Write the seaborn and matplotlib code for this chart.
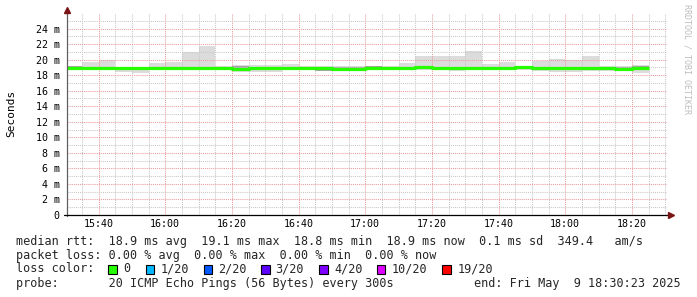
import numpy as np
import pandas as pd
import matplotlib
matplotlib.use("Agg")
import matplotlib.pyplot as plt
import seaborn as sns
from matplotlib.ticker import FixedLocator, FuncFormatter
from matplotlib.patches import Rectangle
from matplotlib.lines import Line2D

# ---------------- data (5-minute bins, labelled by bin end time) ----------------
bin_end = pd.date_range("2025-05-09 15:35", "2025-05-09 18:25", freq="5min")
median_ms = [18.90, 18.90, 18.90, 18.90, 18.90, 18.90, 18.95, 18.90, 18.90, 18.90,
             18.85, 18.90, 18.90, 18.90, 18.95, 18.92, 18.80, 18.80, 18.90, 18.95,
             18.95, 19.05, 18.95, 18.90, 18.90, 18.90, 18.95, 19.00, 18.95, 18.90,
             18.90, 18.90, 18.90, 18.75, 18.95]
smoke_lo = [18.60, 18.60, 18.60, 18.45, 18.30, 18.65, 18.70, 18.60, 18.65, 18.65,
            18.45, 18.45, 18.45, 18.60, 18.65, 18.60, 18.55, 18.55, 18.60, 18.60,
            18.60, 18.65, 18.60, 18.55, 18.60, 18.60, 18.65, 18.70, 18.55, 18.45,
            18.45, 18.55, 18.55, 18.50, 18.30]
smoke_hi = [19.20, 19.75, 19.95, 19.10, 19.10, 19.55, 19.75, 20.95, 21.75, 19.20,
            19.30, 19.30, 19.30, 19.45, 19.15, 19.15, 19.15, 19.15, 19.15, 19.20,
            19.55, 20.45, 20.45, 20.45, 21.10, 19.40, 19.65, 19.20, 19.85, 20.05,
            19.95, 20.45, 19.20, 19.15, 19.30]
core_lo = [18.80, 18.80, 18.80, 18.75, 18.75, 18.80, 18.85, 18.80, 18.80, 18.80,
           18.75, 18.78, 18.78, 18.80, 18.85, 18.55, 18.70, 18.70, 18.80, 18.85,
           18.85, 18.95, 18.85, 18.80, 18.80, 18.80, 18.85, 18.90, 18.85, 18.80,
           18.80, 18.80, 18.80, 18.65, 18.80]
core_hi = [19.20, 19.00, 19.00, 19.00, 19.00, 19.00, 19.05, 19.00, 19.00, 19.00,
           19.12, 19.00, 19.00, 19.00, 19.05, 19.02, 19.05, 19.05, 19.15, 19.05,
           19.05, 19.15, 19.05, 19.00, 19.00, 19.00, 19.05, 19.10, 19.05, 19.00,
           19.00, 19.00, 19.00, 19.10, 19.20]

y_ticks = [0, 2, 4, 6, 8, 10, 12, 14, 16, 18, 20, 24 - 2, 24]
x_tick_labels = ["15:40", "16:00", "16:20", "16:40", "17:00", "17:20", "17:40", "18:00", "18:20"]

loss_labels = ["0", "1/20", "2/20", "3/20", "4/20", "10/20", "19/20"]
loss_colors = ["#26ff00", "#00b8ff", "#0059ff", "#5e00ff", "#7e00ff", "#dd00ff", "#ff0000"]

row1 = "median rtt:  18.9 ms avg  19.1 ms max  18.8 ms min  18.9 ms now  0.1 ms sd  349.4   am/s"
row2 = "packet loss: 0.00 % avg  0.00 % max  0.00 % min  0.00 % now"
row3 = "loss color:"
row4a = "probe:       20 ICMP Echo Pings (56 Bytes) every 300s"
row4b = "end: Fri May  9 18:30:23 2025"

# ---------------- figure ----------------
sns.set_style("white")
plt.rcParams["font.family"] = ["DejaVu Sans Mono", "DejaVu Sans"]

W, H = 697, 297
fx = lambda x: x / W
fy = lambda y: 1 - y / H

fig = plt.figure(figsize=(W / 100, H / 100), dpi=100, facecolor="white")
ax = fig.add_axes([fx(66.5), fy(215), 600 / W, 202 / H])
ax.set_facecolor("white")

mins = np.array(bin_end.hour * 60 + bin_end.minute, dtype=float)
edges = np.append(mins - 5, mins[-1])
ext = lambda a: np.append(np.asarray(a, float), a[-1])

ax.fill_between(edges, ext(smoke_lo), ext(smoke_hi), step="post",
                color="#dcdcdc", lw=0, zorder=1)
ax.fill_between(edges, ext(core_lo), ext(core_hi), step="post",
                color="#a4a4a4", lw=0, zorder=1.5)
df = pd.DataFrame({"t": edges, "rtt": ext(median_ms)})
sns.lineplot(data=df, x="t", y="rtt", drawstyle="steps-post", color="#26ff00",
             lw=2.3, ax=ax, zorder=4, solid_capstyle="butt")

x0 = 15 * 60 + 30 + 23 / 60
ax.set_xlim(x0, x0 + 180)
ax.set_ylim(0, 26)

# grid
major_x = [int(s[:2]) * 60 + int(s[3:]) for s in x_tick_labels]
ax.xaxis.set_major_locator(FixedLocator(major_x))
ax.xaxis.set_minor_locator(FixedLocator(np.arange(935, 1111, 5)))
ax.yaxis.set_major_locator(FixedLocator(y_ticks))
ax.yaxis.set_minor_locator(FixedLocator(np.arange(1, 26, 1)))
ax.xaxis.set_major_formatter(FuncFormatter(lambda v, p: f"{int(v) // 60:02d}:{int(v) % 60:02d}"))
ax.yaxis.set_major_formatter(FuncFormatter(lambda v, p: "0" if v == 0 else f"{int(round(v))} m"))
ax.set_axisbelow(False)
ax.grid(which="minor", color="#c8c8c8", lw=0.75, ls=(0, (1, 1)), zorder=2)
ax.grid(which="major", color="#eb9a9a", lw=0.75, ls=(0, (1, 1)), zorder=2.1)
ax.tick_params(which="both", length=0)
ax.tick_params(axis="y", pad=4.8, labelsize=7.2, labelcolor="#000000")
ax.tick_params(axis="x", pad=3.2, labelsize=7.2, labelcolor="#000000")
ax.set_xlabel("")
ax.set_ylabel("")

for s in ["top", "right", "left", "bottom"]:
    ax.spines[s].set_visible(False)

# axes lines with arrows (figure pixel coordinates)
fig.add_artist(Line2D([fx(66.5), fx(66.5)], [fy(216), fy(10)], color="#606060", lw=0.9))
fig.add_artist(Line2D([fx(64), fx(670)], [fy(215), fy(215)], color="#000000", lw=0.9))
fig.add_artist(Line2D([fx(66.5)], [fy(10)], marker="^", ms=4.5, color="#7a1515", lw=0))
fig.add_artist(Line2D([fx(670.5)], [fy(215)], marker=">", ms=4.5, color="#7a1515", lw=0))

# labels
fig.text(fx(11), fy(113), "Seconds", rotation=90, ha="center", va="center",
         fontsize=8, color="#000000")
fig.text(fx(687), fy(4), "RRDTOOL / TOBI OETIKER", rotation=270, ha="center", va="top",
         fontsize=6, color="#bdbdbd")

fs = 8.5
fig.text(fx(16), fy(241), row1, ha="left", va="center", fontsize=fs)
fig.text(fx(16), fy(255), row2, ha="left", va="center", fontsize=fs)
fig.text(fx(16), fy(269), row3, ha="left", va="center", fontsize=fs)
fig.text(fx(16), fy(283), row4a, ha="left", va="center", fontsize=fs)
fig.text(fx(681), fy(283), row4b, ha="right", va="center", fontsize=fs)

box_x = [108, 145.8, 203.6, 261.3, 319.1, 376.9, 442.2]
lab_x = [123.6, 160.9, 217.8, 275.6, 334, 392, 457.8]
for bx, lx, lab, col in zip(box_x, lab_x, loss_labels, loss_colors):
    fig.add_artist(Rectangle((fx(bx), fy(273.5)), 8.5 / W, 9 / H, transform=fig.transFigure,
                             facecolor=col, edgecolor="#000000", lw=0.8))
    fig.text(fx(lx), fy(269), lab, ha="left", va="center", fontsize=fs)

fig.savefig("out.png", dpi=100, facecolor="white")
